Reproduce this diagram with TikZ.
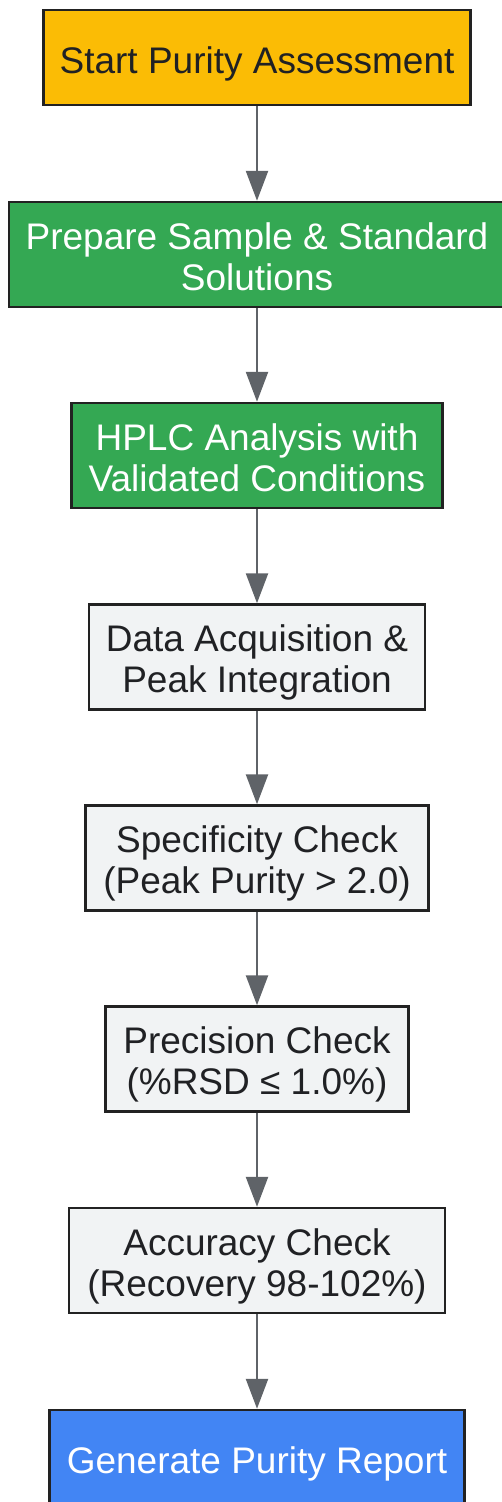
\documentclass[tikz,border=0pt]{standalone}
\usepackage{fontspec}
\setmainfont{Liberation Sans}
\usetikzlibrary{arrows.meta}

\definecolor{startyellow}{HTML}{FBBC05}
\definecolor{prepgreen}{HTML}{34A853}
\definecolor{checkgray}{HTML}{F1F3F4}
\definecolor{reportblue}{HTML}{4285F4}
\definecolor{boxline}{HTML}{222222}
\definecolor{arrowgray}{HTML}{5F6368}
\definecolor{textdark}{HTML}{202124}

\tikzset{
    stepbox/.style={draw=boxline, line width=2.5pt, align=center, inner sep=0pt,
        minimum height=105pt, text height=71.5pt, text depth=0pt,
        font=\fontsize{37}{41}\selectfont, text=textdark},
    onelinebox/.style={stepbox, minimum height=95pt, text height=31.5pt},
    startbox/.style={onelinebox, fill=startyellow},
    greenbox/.style={stepbox, fill=prepgreen, text=white},
    checkbox/.style={stepbox, fill=checkgray},
    reportbox/.style={onelinebox, fill=reportblue, text=white},
    flowarrow/.style={draw=arrowgray, line width=2.5pt,
        -{Triangle[width=22pt,length=30pt]}}
}

\begin{document}
\begin{tikzpicture}[x=1pt,y=1pt]
    % Page frame
    \useasboundingbox (0,0) rectangle (501,-1502);

    % Steps
    \node[startbox, minimum width=427pt] (start) at (257,-57.5) {Start Purity Assessment};
    \node[greenbox, minimum width=496pt] (prep) at (257,-254.5) {Prepare Sample \& Standard\\Solutions};
    \node[greenbox, minimum width=371pt] (hplc) at (257,-455.5) {HPLC Analysis with\\Validated Conditions};
    \node[checkbox, minimum width=336pt] (data) at (257,-657) {Data Acquisition \&\\Peak Integration};
    \node[checkbox, minimum width=343pt] (spec) at (257,-858) {Specificity Check\\(Peak Purity > 2.0)};
    \node[checkbox, minimum width=303pt] (prec) at (257,-1059) {Precision Check\\(\%RSD ≤ 1.0\%)};
    \node[checkbox, minimum width=376pt] (accu) at (257,-1260.5) {Accuracy Check\\(Recovery 98-102\%)};
    \node[reportbox, minimum width=415pt] (report) at (257,-1457.5) {Generate Purity Report};

    % Connectors
    \foreach \a/\b in {start/prep, prep/hplc, hplc/data, data/spec, spec/prec, prec/accu, accu/report} {
        \draw[flowarrow] (\a) -- (\b);
    }
\end{tikzpicture}
\end{document}
